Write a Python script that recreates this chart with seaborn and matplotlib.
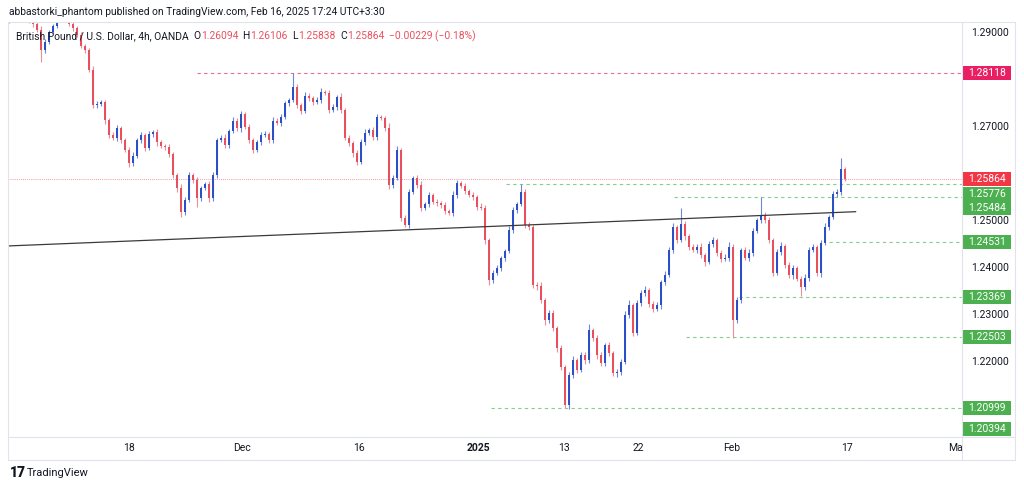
import numpy as np
import matplotlib
matplotlib.use("Agg")
import matplotlib.pyplot as plt
import seaborn as sns
from matplotlib.patches import Rectangle
from matplotlib.lines import Line2D
from matplotlib.transforms import blended_transform_factory

# GBPUSD closes, one value per two 4h bars
closes = [
    1.29255, 1.29298, 1.29340, 1.29362, 1.29298, 1.29234, 1.29170, 1.29043, 1.28617, 1.28787,
    1.29000, 1.29128, 1.29255, 1.29340, 1.29298, 1.29170, 1.29085, 1.28936, 1.28702, 1.28617,
    1.28191, 1.27447, 1.27468, 1.27511, 1.27128, 1.26809, 1.26745, 1.26957, 1.26702, 1.26489,
    1.26213, 1.26362, 1.26702, 1.26809, 1.26532, 1.26830, 1.26872, 1.26660, 1.26574, 1.26553,
    1.26404, 1.25957, 1.25681, 1.25170, 1.25426, 1.25957, 1.25851, 1.25468, 1.25681, 1.25766,
    1.25468, 1.25957, 1.26702, 1.26745, 1.26596, 1.26894, 1.27106, 1.26957, 1.27255, 1.26979,
    1.26702, 1.26489, 1.26660, 1.26809, 1.26830, 1.26702, 1.27106, 1.27064, 1.27191, 1.27489,
    1.27553, 1.27830, 1.27447, 1.27319, 1.27638, 1.27596, 1.27511, 1.27553, 1.27723, 1.27702,
    1.27340, 1.27404, 1.27617, 1.27340, 1.26745, 1.26638, 1.26426, 1.26234, 1.26660, 1.26851,
    1.26915, 1.26766, 1.27191, 1.27170, 1.26957, 1.25745, 1.25894, 1.26489, 1.25043, 1.24894,
    1.25596, 1.25894, 1.25745, 1.25255, 1.25340, 1.25532, 1.25383, 1.25362, 1.25319, 1.25191,
    1.25149, 1.25532, 1.25787, 1.25723, 1.25617, 1.25532, 1.25489, 1.25277, 1.25255, 1.24574,
    1.23723, 1.23872, 1.23979, 1.24191, 1.24340, 1.24787, 1.25213, 1.25340, 1.25596, 1.24894,
    1.24851, 1.23617, 1.23596, 1.23298, 1.22872, 1.23021, 1.22702, 1.22277, 1.21872, 1.21064,
    1.21702, 1.22021, 1.21809, 1.22128, 1.22021, 1.22660, 1.22489, 1.22128, 1.21957, 1.22340,
    1.22170, 1.21745, 1.21766, 1.21979, 1.22979, 1.23191, 1.22596, 1.23234, 1.23447, 1.23511,
    1.23213, 1.23106, 1.23191, 1.23681, 1.23830, 1.24362, 1.24851, 1.24574, 1.24915, 1.24660,
    1.24426, 1.24362, 1.24426, 1.24255, 1.24106, 1.24489, 1.24574, 1.24298, 1.24170, 1.24191,
    1.24426, 1.22872, 1.23298, 1.24362, 1.24191, 1.24298, 1.24766, 1.25000, 1.25106, 1.25000,
    1.24574, 1.23872, 1.24319, 1.24447, 1.24043, 1.23830, 1.23979, 1.23745, 1.23574, 1.23766,
    1.24362, 1.24426, 1.23872, 1.24511, 1.24851, 1.25064, 1.25553, 1.25596, 1.26094, 1.25864,
]
first_open = 1.29230

# wick lengths above / below the body, in pips
up_wick = [
    4, 3, 5, 4, 3, 6, 4, 5, 8, 6,  5, 4, 3, 5, 4, 6, 5, 4, 6, 5,
    4, 8, 6, 5, 4, 5, 7, 6, 5, 4,  6, 8, 5, 6, 4, 7, 5, 6, 4, 5,
    6, 4, 5, 8, 6, 7, 5, 6, 4, 5,  6, 7, 5, 6, 8, 5, 9, 6, 7, 5,
    6, 4, 5, 7, 6, 5, 8, 6, 7, 5,  4, 29, 6, 5, 8, 6, 4, 7, 9, 5,
    6, 7, 5, 8, 4, 6, 5, 7, 6, 8,  5, 7, 6, 4, 5, 10, 6, 8, 5, 6,
    7, 5, 6, 8, 5, 6, 4, 7, 5, 6,  5, 8, 6, 5, 7, 4, 6, 5, 8, 6,
    5, 7, 6, 5, 4, 8, 6, 5, 18, 6,  7, 5, 6, 8, 5, 6, 7, 5, 6, 4,
    6, 8, 5, 7, 6, 12, 5, 6, 7, 5,  6, 5, 7, 6, 8, 10, 5, 7, 6, 8,
    5, 6, 7, 5, 8, 6, 9, 5, 34, 6,  5, 7, 6, 8, 5, 6, 7, 5, 6, 8,
    10, 6, 7, 5, 6, 8, 6, 5, 38, 6,  7, 5, 6, 9, 5, 7, 6, 5, 6, 8,
    6, 7, 5, 6, 8, 5, 7, 6, 22, 4,
]
dn_wick = [
    3, 4, 5, 6, 4, 5, 6, 5, 25, 6,  4, 5, 4, 3, 5, 4, 6, 5, 4, 6,
    5, 7, 6, 5, 8, 6, 5, 7, 6, 5,  8, 6, 5, 7, 6, 5, 6, 8, 5, 6,
    7, 6, 8, 11, 6, 5, 7, 19, 6, 5,  8, 6, 7, 5, 6, 7, 5, 6, 8, 5,
    6, 7, 5, 6, 5, 7, 6, 5, 6, 5,  6, 5, 7, 6, 5, 6, 7, 5, 6, 5,
    6, 5, 6, 7, 5, 6, 8, 6, 5, 6,  5, 6, 7, 5, 6, 8, 6, 5, 7, 4,
    6, 5, 6, 7, 5, 6, 5, 6, 7, 6,  5, 6, 7, 5, 6, 5, 6, 7, 5, 8,
    11, 6, 5, 7, 6, 5, 6, 7, 5, 6,  7, 6, 8, 6, 10, 7, 6, 8, 6, 7,
    8, 6, 7, 5, 8, 6, 7, 8, 6, 7,  6, 7, 8, 6, 5, 7, 6, 5, 7, 6,
    7, 6, 5, 8, 6, 5, 6, 7, 5, 8,  6, 5, 7, 6, 8, 5, 6, 7, 6, 5,
    6, 38, 7, 6, 5, 7, 6, 5, 6, 7,  6, 7, 5, 6, 7, 6, 8, 5, 20, 6,
    7, 5, 6, 8, 5, 6, 5, 7, 6, 4,
]

date_labels = ["18", "Dec", "16", "2025", "13", "22", "Feb", "17", "Ma"]
date_pos = [30.0, 58.25, 87.5, 117.5, 138.75, 157.5, 180.75, 209.5, 236.75]

# horizontal levels: price, first bar of the dashed line (None = no line), kind
level_prices = [1.28118, 1.25864, 1.25776, 1.25484, 1.24531, 1.23369, 1.22503, 1.20999, 1.20394]
level_start = [47, -1, 124.25, 166.25, 205, 182.5, 169.25, 120.5, None]
level_kind = ["resist", "last", "support", "support", "support", "support", "support", "support", "support"]

trend_x = [-0.5, 211.75]
trend_y = [1.24447, 1.25177]

header = "abbastorki_phantom published on TradingView.com, Feb 16, 2025 17:24 UTC+3:30"
symbol = "British Pound / U.S. Dollar, 4h, OANDA"
ohlc_names = ["O", "H", "L", "C"]
ohlc_vals = ["1.26094", "1.26106", "1.25838", "1.25864"]
change = "\u22120.00229 (\u22120.18%)"

UP = "#2b4fc6"
DOWN = "#e9505e"
TXT = "#131722"
kind_color = {"resist": "#e91e63", "last": "#f23645", "support": "#4caf50"}
line_color = {"resist": "#ec6a8a", "last": "#f23645", "support": "#86cc8a"}

sns.set_theme(style="white")
plt.rcParams["font.family"] = ["Roboto", "DejaVu Sans"]

W, H = 1024, 490
fig = plt.figure(figsize=(W / 100, H / 100), dpi=100)
L, R, T, B = 8, 962, 22, 437
ax = fig.add_axes([L / W, 1 - B / H, (R - L) / W, (B - T) / H])

closes = np.array(closes)
opens = np.concatenate([[first_open], closes[:-1]])
top = np.maximum(opens, closes)
bot = np.minimum(opens, closes)
highs = top + np.array(up_wick) * 1e-4
lows = bot - np.array(dn_wick) * 1e-4
idx = np.arange(len(closes))
up = closes >= opens
body_col = np.where(up, UP, DOWN)
wick_col = np.where(up, "#6f88d8", "#ec8e99")

ax.vlines(idx, lows, highs, colors=wick_col, lw=0.8, zorder=2)
ax.bar(idx, np.maximum(top - bot, 0.00004), bottom=bot, width=0.62,
       color=body_col, linewidth=0, zorder=3)

sns.lineplot(x=trend_x, y=trend_y, ax=ax, color="#3a3a3a", lw=0.9, zorder=4)

ymin, ymax = 1.20383, 1.29213
xmin, xmax = -0.2, 238.3
ax.set_xlim(xmin, xmax)
ax.set_ylim(ymin, ymax)

for p, s, k in zip(level_prices, level_start, level_kind):
    if s is None:
        continue
    if k == "last":
        ax.hlines(p, xmin, xmax, colors=line_color[k], lw=0.6, linestyles=(0, (1, 1.5)), alpha=0.7, zorder=1)
    else:
        ax.hlines(p, s, xmax, colors=line_color[k], lw=0.8, linestyles=(0, (3, 3)), zorder=1)

# price tags on the right scale, nudged apart like TradingView does
px = (ymax - ymin) / (B - T)
tag_h = 14 * px
gap = 14.5 * px
order = np.argsort(level_prices)[::-1]
prev = np.inf
tag_y = {}
for i in order:
    q = min(level_prices[i], prev - gap)
    q = max(q, ymin + tag_h / 2 + 1 * px)
    tag_y[i] = q
    prev = q

# axes styling
for sp in ax.spines.values():
    sp.set_visible(False)
ax.yaxis.tick_right()
yt = np.arange(1.21, 1.2951, 0.01)
ax.set_yticks(yt)
# a tick label hidden under a price tag is not shown (as on TradingView)
ylabs = []
for v in yt:
    covered = any(abs(v - q) < tag_h / 2 + 3 * px for q in tag_y.values())
    ylabs.append("" if covered else f"{v:.5f}")
ax.set_yticklabels(ylabs)
ax.tick_params(axis="y", length=0, pad=6.5, labelsize=7.5, labelcolor=TXT)
ax.set_xticks(date_pos)
ax.set_xticklabels(date_labels)
ax.tick_params(axis="x", length=0, pad=4.5, labelsize=7.5, labelcolor=TXT)
for lab in ax.get_xticklabels():
    if lab.get_text() == "2025":
        lab.set_fontweight("bold")
ax.grid(False)
ax.set_xlabel("")
ax.set_ylabel("")

trans = blended_transform_factory(ax.transAxes, ax.transData)
x0 = 1 + 1 / (R - L)
tw = 48 / (R - L)
for i, p in enumerate(level_prices):
    c = kind_color[level_kind[i]]
    ax.add_patch(Rectangle((x0, tag_y[i] - tag_h / 2), tw, tag_h, transform=trans,
                           facecolor=c, edgecolor="none", clip_on=False, zorder=6))
    ax.text(x0 + tw / 2, tag_y[i], f"{p:.5f}", transform=trans, color="white",
            fontsize=7.5, ha="center", va="center", clip_on=False, zorder=7)

# frame around chart + scales
fc = "#e0e3eb"
def fline(x1, y1, x2, y2):
    fig.add_artist(Line2D([x1 / W, x2 / W], [1 - y1 / H, 1 - y2 / H], color=fc, lw=0.8))
fline(L, T, 1015, T)
fline(L, 460, 1015, 460)
fline(L, T, L, 460)
fline(1015, T, 1015, 460)
fline(R, T, R, 460)
fline(L, B, 1015, B)

# header and legend
fig.text(9 / W, 1 - 12 / H, header, fontsize=7.4, color=TXT, va="center")
fig.canvas.draw()
rend = fig.canvas.get_renderer()
pieces = [(symbol, TXT)]
for n, v in zip(ohlc_names, ohlc_vals):
    pieces += [("  " + n, TXT), (v, DOWN)]
pieces.append(("  " + change, DOWN))
xc = 16
for s, c in pieces:
    t = fig.text(xc / W, 1 - 36 / H, s, fontsize=7.4, color=c, va="center")
    bb = t.get_window_extent(rend)
    xc = bb.x1

fig.text(10 / W, 1 - 473 / H, "17", fontsize=10, fontweight="black", color=TXT, va="center")
fig.text(27 / W, 1 - 473 / H, "TradingView", fontsize=8, color=TXT, va="center")

fig.savefig("out.png", dpi=100)
